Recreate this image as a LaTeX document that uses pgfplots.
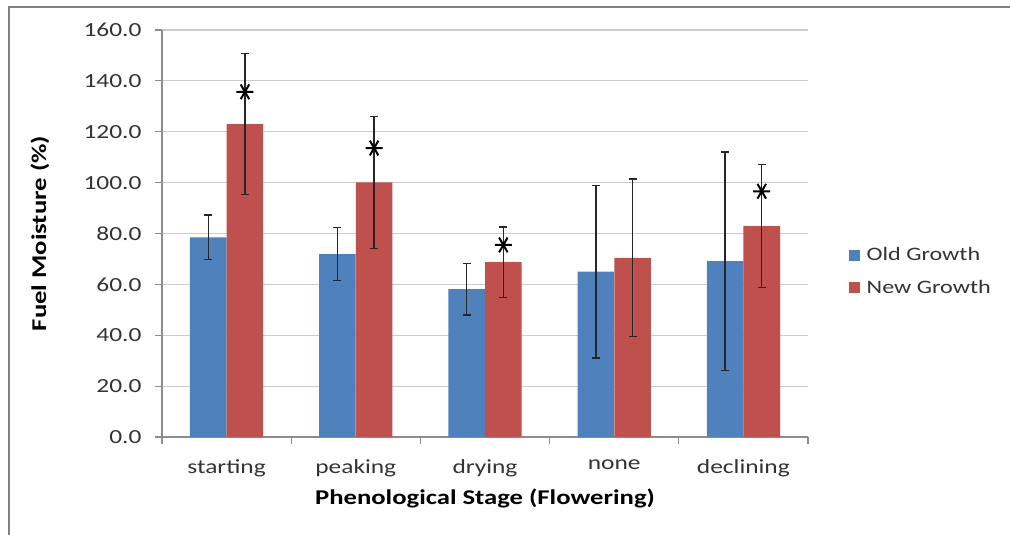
\documentclass[border=0pt]{standalone}
\usepackage{pgfplots}
\pgfplotsset{compat=1.18}
\usepackage{pgfplotstable}
\usepackage{fontspec}
\setmainfont{Carlito}[FakeStretch=1.27]

\definecolor{oldblue}{HTML}{4F81BD}
\definecolor{newred}{HTML}{C0504D}
\definecolor{gridgray}{HTML}{CCCCCC}
\definecolor{axisgray}{HTML}{8C8C8C}
\definecolor{txtgray}{HTML}{333333}

% x  mean  err
\pgfplotstableread{
x y e
0 78.5 8.7
1 71.9 10.4
2 58.1 10.2
3 65.0 33.9
4 69.1 43.0
}\oldgrowth
\pgfplotstableread{
x y e
0 123.0 27.7
1 100.1 26.0
2 68.7 13.9
3 70.4 31.0
4 82.9 24.2
}\newgrowth

\begin{document}
\begin{tikzpicture}[x=1pt,y=1pt]
  \useasboundingbox (0,0) rectangle (1010,535);
  \draw[black!50, line width=2pt] (9,0) -- (9,528) -- (1010,528);
  \begin{axis}[
      at={(162pt,98pt)}, anchor=south west,
      scale only axis,
      width=646pt, height=407pt,
      ybar, bar width=0.283,
      xmin=-0.5, xmax=4.5,
      ymin=0, ymax=160,
      ytick={0,20,...,160},
      xtick={0,1,2,3,4},
      xticklabels={starting,peaking,drying,none,declining},
      minor xtick={-0.5,0.5,1.5,2.5,3.5,4.5},
      major x tick style={draw=none},
      axis x line*=bottom, axis y line*=left,
      axis line style={axisgray, line width=1.2pt, -},
      tick style={axisgray, line width=1.2pt},
      tick align=outside,
      major tick length=7pt, minor tick length=7pt,
      ymajorgrids,
      grid style={gridgray, line width=1.2pt},
      /pgf/number format/fixed,
      /pgf/number format/fixed zerofill,
      /pgf/number format/precision=1,
      /pgf/number format/assume math mode=true,
      ticklabel style={font=\fontsize{20}{23}\selectfont, text=txtgray},
      yticklabel style={xshift=-10pt},
      xticklabel style={yshift=-12pt},
      xlabel={\textbf{Phenological Stage (Flowering)}},
      ylabel={\textbf{Fuel Moisture (\%)}},
      label style={font=\fontsize{21}{24}\selectfont},
      xlabel style={at={(axis description cs:0.5,-0.152)}, anchor=center},
      ylabel style={at={(axis description cs:-0.189,0.5)}, anchor=center},
      legend style={at={(axis description cs:1.058,0.407)}, anchor=west,
        draw=none, fill=none, row sep=14pt,
        font=\fontsize{19}{22}\selectfont, text=txtgray},
      legend cell align=left,
      legend image code/.code={\fill[#1] (0pt,-5.5pt) rectangle (11pt,5.5pt);
        \path (16pt,0pt);},
      error bars/error bar style={black!85, line width=1.4pt},
      error bars/error mark options={black!85, line width=1.4pt,
        mark size=4pt, rotate=90},
    ]
    \addplot[bar shift=-0.142, fill=oldblue, draw=none,
      error bars/.cd, y dir=both, y explicit]
      table[x=x, y=y, y error=e] {\oldgrowth};
    \addlegendentry{Old Growth}
    \addplot[bar shift=0.142, fill=newred, draw=none,
      error bars/.cd, y dir=both, y explicit]
      table[x=x, y=y, y error=e] {\newgrowth};
    \addlegendentry{New Growth}
    % significance markers, over the New Growth bars
    \addplot[bar shift=0, draw=none, fill=none,
      mark=asterisk, mark size=8.5pt,
      mark options={black, line width=2pt, rotate=90}, forget plot]
      coordinates {(0.142,135.7) (1.142,113.6) (2.142,75.5) (4.142,96.6)};
  \end{axis}
\end{tikzpicture}
\end{document}
